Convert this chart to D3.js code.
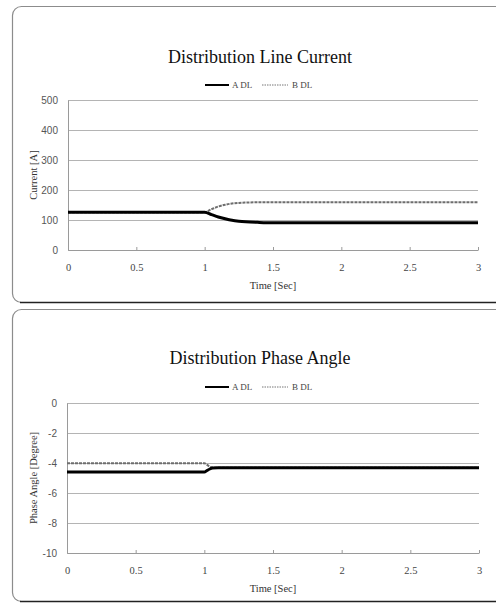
<!DOCTYPE html>
<html>
<head>
<meta charset="utf-8">
<script src="https://cdn.jsdelivr.net/npm/d3@7"></script>
<style>
  body { margin: 0; background: #fff; }
  svg { display: block; }
  .grid line { stroke: #b4b4b4; }
  .grid path { display: none; }
</style>
</head>
<body>
<svg id="chart" width="496" height="606"></svg>
<script>
'use strict';

// Distribution line current [A]
const currentTime = [0, 1, 1.05, 1.1, 1.15, 1.2, 1.25, 1.3, 1.4, 1.5, 2, 2.5, 3];
const currentA = [126, 126, 118, 110, 104, 99, 96, 94, 92, 91, 91, 91, 91];
const currentB = [126, 126, 136, 145, 151, 155, 157, 158, 159, 159, 159, 159, 159];

// Distribution phase angle [degree]
const angleTime = [0, 1, 1.02, 1.04, 1.06, 1.1, 2, 3];
const angleA = [-4.6, -4.6, -4.5, -4.4, -4.34, -4.32, -4.32, -4.32];
const angleB = [-4.02, -4.02, -4.12, -4.25, -4.3, -4.32, -4.32, -4.32];

const xTicks = [0, 0.5, 1, 1.5, 2, 2.5, 3];
const currentTicks = [0, 100, 200, 300, 400, 500];
const angleTicks = [0, -2, -4, -6, -8, -10];
const seriesNames = ['A DL', 'B DL'];

const svg = d3.select('#chart');
const serif = '"Liberation Serif", "Times New Roman", serif';
const sans = '"Liberation Sans", Arial, sans-serif';

const panels = [
    {
        frame: { y: 6.5, h: 296 },
        title: 'Distribution Line Current',
        titleY: 63,
        legendY: 85,
        yLabel: 'Current [A]',
        x: [68, 478],
        y: [250, 100],
        domain: [0, 500],
        ticks: currentTicks,
        time: currentTime,
        a: currentA,
        b: currentB
    },
    {
        frame: { y: 309.5, h: 292 },
        title: 'Distribution Phase Angle',
        titleY: 364,
        legendY: 387,
        yLabel: 'Phase Angle [Degree]',
        x: [67, 479],
        y: [553, 403],
        domain: [-10, 0],
        ticks: angleTicks,
        time: angleTime,
        a: angleA,
        b: angleB
    }
];

panels.forEach(drawPanel);

function drawPanel(p) {
    const g = svg.append('g');

    // rounded frame
    g.append('rect')
        .attr('x', 12.5)
        .attr('y', p.frame.y)
        .attr('width', 500)
        .attr('height', p.frame.h)
        .attr('rx', 9)
        .attr('fill', 'none')
        .attr('stroke', '#8c8c8c')
        .attr('stroke-width', 1.2);

    g.append('line')
        .attr('x1', 20).attr('x2', 496)
        .attr('y1', p.frame.y + p.frame.h).attr('y2', p.frame.y + p.frame.h)
        .attr('stroke', '#222')
        .attr('stroke-width', 1.6);

    const x = d3.scaleLinear().domain([0, 3]).range(p.x);
    const y = d3.scaleLinear().domain(p.domain).range(p.y);

    // title
    g.append('text')
        .attr('x', 260)
        .attr('y', p.titleY)
        .attr('text-anchor', 'middle')
        .style('font-family', serif)
        .style('font-size', '18px')
        .attr('fill', '#111')
        .text(p.title);

    // legend
    const legend = g.append('g').attr('transform', 'translate(205,' + p.legendY + ')');
    legend.append('line')
        .attr('x1', 0).attr('x2', 24)
        .attr('stroke', '#000').attr('stroke-width', 2);
    legend.append('text')
        .attr('x', 27).attr('y', 3)
        .style('font-family', serif).style('font-size', '9px')
        .attr('fill', '#444')
        .text(seriesNames[0]);
    legend.append('line')
        .attr('x1', 57).attr('x2', 83)
        .attr('stroke', '#777').attr('stroke-width', 1)
        .attr('stroke-dasharray', '1.5,1');
    legend.append('text')
        .attr('x', 87).attr('y', 3)
        .style('font-family', serif).style('font-size', '9px')
        .attr('fill', '#444')
        .text(seriesNames[1]);

    // horizontal gridlines
    g.append('g')
        .attr('class', 'grid')
        .attr('transform', 'translate(' + p.x[0] + ',0)')
        .call(d3.axisLeft(y).tickValues(p.ticks).tickSize(-(p.x[1] - p.x[0])).tickFormat(''));

    // y axis
    const yAxis = g.append('g')
        .attr('transform', 'translate(' + p.x[0] + ',0)')
        .call(d3.axisLeft(y).tickValues(p.ticks).tickSize(0).tickPadding(10)
            .tickFormat(d => String(d)));
    yAxis.select('.domain').attr('stroke', '#9a9a9a');
    yAxis.selectAll('text')
        .style('font-family', sans).style('font-size', '10px')
        .attr('fill', '#555');

    // x axis
    const xAxis = g.append('g')
        .attr('transform', 'translate(0,' + p.y[0] + ')')
        .call(d3.axisBottom(x).tickValues(xTicks).tickSizeInner(-3).tickSizeOuter(0).tickPadding(14)
            .tickFormat(d => String(d)));
    xAxis.select('.domain').attr('stroke', '#9a9a9a');
    xAxis.selectAll('.tick line').attr('stroke', '#9a9a9a');
    xAxis.selectAll('text')
        .style('font-family', serif).style('font-size', '10.5px')
        .attr('fill', '#444');

    // axis titles
    g.append('text')
        .attr('x', (p.x[0] + p.x[1]) / 2)
        .attr('y', p.y[0] + 39)
        .attr('text-anchor', 'middle')
        .style('font-family', serif).style('font-size', '10.5px')
        .attr('fill', '#333')
        .text('Time [Sec]');

    g.append('text')
        .attr('transform', 'translate(37,' + (p.y[0] + p.y[1]) / 2 + ') rotate(-90)')
        .attr('text-anchor', 'middle')
        .style('font-family', serif).style('font-size', '10.5px')
        .attr('fill', '#333')
        .text(p.yLabel);

    // series
    const line = d3.line()
        .x((d, i) => x(p.time[i]))
        .y(d => y(d))
        .curve(d3.curveMonotoneX);

    g.append('path')
        .attr('d', line(p.b))
        .attr('fill', 'none')
        .attr('stroke', '#6e6e6e')
        .attr('stroke-width', 2)
        .attr('stroke-dasharray', '3,1');

    g.append('path')
        .attr('d', line(p.a))
        .attr('fill', 'none')
        .attr('stroke', '#000')
        .attr('stroke-width', 3);
}
</script>
</body>
</html>
